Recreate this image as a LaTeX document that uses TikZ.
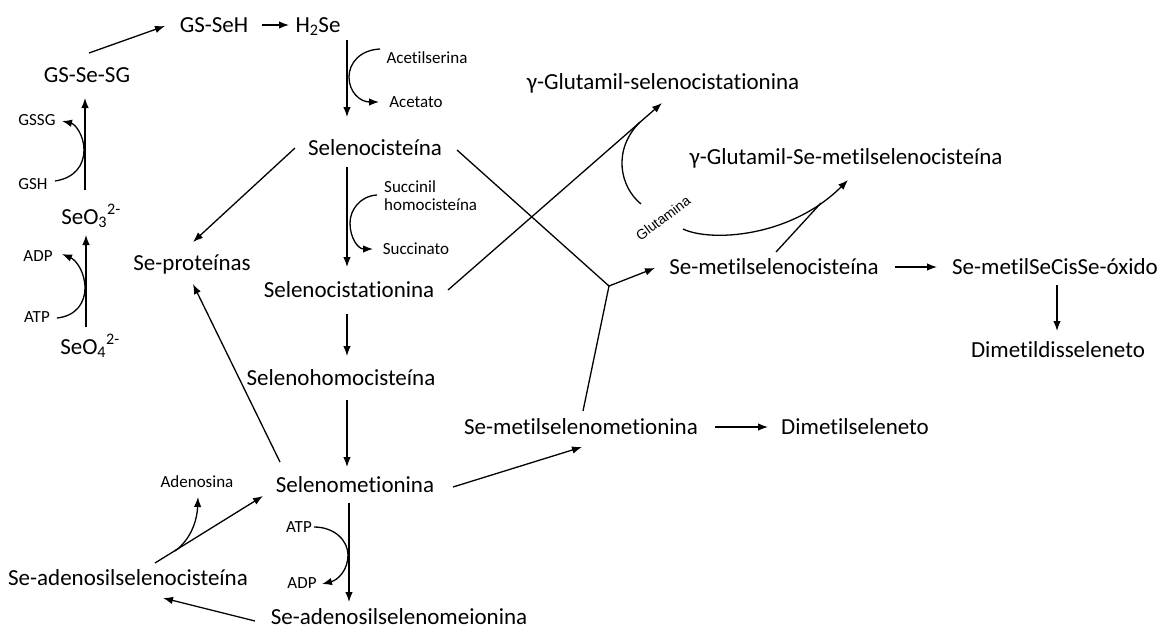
\documentclass[tikz,border=0pt]{standalone}
\usepackage{fontspec}
\setmainfont{Carlito}[RawFeature={-liga;-clig;-dlig}]
\newfontfamily\glufont{Liberation Sans}
\usetikzlibrary{arrows.meta,calc}
\begin{document}
\begin{tikzpicture}[x=1pt,y=-1pt,
  main/.style={inner sep=0pt, font=\fontsize{23}{27}\selectfont, text height=16pt, text depth=2pt},
  small/.style={inner sep=0pt, font=\fontsize{17}{18}\selectfont, text height=12pt, text depth=1.5pt},
  arr/.style={line width=1.3pt, -{Latex[length=10pt,width=7.5pt]}},
  ln/.style={line width=1.3pt}]
\useasboundingbox (0,0) rectangle (1165,630);
% main nodes
\node[main] (gsseh) at (214,25) {GS-SeH};
\node[main] (h2se) at (318,25) {H\textsubscript{2}Se};
\node[main] (gssesg) at (87,75) {GS-Se-SG};
\node[main] (seo3) at (91,217) {SeO\textsubscript{3}\textsuperscript{2-}};
\node[main] (seo4) at (90,347) {SeO\textsubscript{4}\textsuperscript{2-}};
\node[main] (seprot) at (192,263) {Se-proteínas};
\node[main] (selcys) at (375,148) {Selenocisteína};
\node[main] (selcyst) at (349,290) {Selenocistationina};
\node[main] (selhcys) at (341,378) {Selenohomocisteína};
\node[main] (selmet) at (355,485) {Selenometionina};
\node[main] (sadsm) at (399,617) {Se-adenosilselenomeionina};
\node[main] (sadsc) at (128,578) {Se-adenosilselenocisteína};
\node[main] (gglsc) at (663,82) {γ-Glutamil-selenocistationina};
\node[main] (gglsm) at (846,157) {γ-Glutamil-Se-metilselenocisteína};
\node[main] (smsc) at (774,267) {Se-metilselenocisteína};
\node[main] (smscox) at (1055,267) {Se-metilSeCisSe-óxido};
\node[main] (dmds) at (1058,350) {Dimetildisseleneto};
\node[main] (smsm) at (581,427) {Se-metilselenometionina};
\node[main] (dms) at (855,427) {Dimetilseleneto};
% small nodes
\node[small] (gssg) at (37,120) {GSSG};
\node[small] (gsh) at (33,184) {GSH};
\node[small] (adp1) at (38,256) {ADP};
\node[small] (atp1) at (37,317) {ATP};
\node[small] (acetil) at (427,58) {Acetilserina};
\node[small] (acetato) at (416,102) {Acetato};
\node[inner sep=0pt, font=\fontsize{17}{18}\selectfont, align=left, anchor=west] (succ) at (384,196) {Succinil\\homocisteína};
\node[small] (succinato) at (416,249) {Succinato};
\node[small] (adenosina) at (197,482) {Adenosina};
\node[small] (atp2) at (299,527) {ATP};
\node[small] (adp2) at (302,583) {ADP};
\node[inner sep=0pt, font=\glufont\fontsize{14}{15}\selectfont, rotate=37] (glut) at (663,218) {Glutamina};
\coordinate (J) at (609,286);
\coordinate (M) at (821,203);
% connectors
\draw[arr] ($(gssesg)+(2,-22)$) -- ($(gsseh)+(-49,1)$);
\draw[arr] ($(gsseh)+(48,0)$) -- ($(h2se)+(-29,0)$);
\draw[arr] ($(seo3)+(-6,-27)$) -- ($(gssesg)+(-2,23)$);
\draw[arr] ($(gsh)+(22,-3)$) .. controls (75,178) and (84,165) .. (84,150) .. controls (84,135) and (75,124) .. ($(gssg)+(25,1)$);
\draw[arr] ($(seo4)+(-4,-20)$) -- ($(seo3)+(-5,18)$);
\draw[arr] ($(atp1)+(20,1)$) .. controls (76,316) and (85,303) .. (85,288) .. controls (85,272) and (76,260) .. ($(adp1)+(24,-2)$);
\draw[arr] ($(h2se)+(29,15)$) -- ($(selcys)+(-28,-31)$);
\draw[arr] ($(acetil)+(-47,-9)$) .. controls (360,50) and (349,63) .. (349,77) .. controls (349,92) and (360,102) .. ($(acetato)+(-37,0)$);
\draw[arr] ($(selcys)+(-28,19)$) -- ($(selcyst)+(-2,-23)$);
\draw[arr] ($(succ.west)+(-7,-1)$) .. controls (360,196) and (350,210) .. (350,223) .. controls (350,238) and (358,249) .. ($(succinato)+(-43,0)$);
\draw[arr] ($(selcyst)+(-2,24)$) -- ($(selhcys)+(6,-22)$);
\draw[arr] ($(selhcys)+(6,22)$) -- ($(selmet)+(-8,-18)$);
\draw[arr] ($(selmet)+(-6,18)$) -- ($(sadsm)+(-50,-15)$);
\draw[arr] ($(atp2)+(15,0)$) .. controls (335,527) and (348,541) .. (348,555) .. controls (348,570) and (338,580) .. ($(adp2)+(20,1)$);
\draw[arr] ($(sadsm)+(-144,4)$) -- ($(sadsc)+(35,20)$);
\draw[arr] ($(sadsc)+(27,-15)$) -- ($(selmet)+(-92,11)$);
\draw[arr] (175,551) .. controls (190,540) and (197,522) .. ($(adenosina)+(1,15)$);
\draw[arr] ($(selcys)+(-80,0)$) -- ($(seprot)+(1,-21)$);
\draw[arr] ($(selmet)+(-75,-23)$) -- ($(seprot)+(1,21)$);
\draw[ln] ($(selcys)+(82,2)$) -- (J);
\draw[ln] ($(smsm)+(2,-16)$) -- (J);
\draw[arr] (J) -- ($(smsc)+(-119,1)$);
\draw[arr] ($(selcyst)+(99,0)$) -- ($(gglsc)+(-1,21)$);
\draw[ln] ($(glut)+(-22,-14)$) .. controls (620,187) and (612,150) .. (640,122);
\draw[arr] ($(glut)+(20,11)$) .. controls (710,242) and (790,238) .. ($(gglsm)+(2,23)$);
\draw[ln] ($(smsc)+(2,-15)$) -- (M);
\draw[arr] ($(smsc)+(121,0)$) -- ($(smscox)+(-118,0)$);
\draw[arr] ($(smscox)+(2,18)$) -- ($(dmds)+(-1,-19)$);
\draw[arr] ($(smsm)+(134,0)$) -- ($(dms)+(-87,0)$);
\draw[arr] ($(selmet)+(98,2)$) -- ($(smsm)+(1,20)$);
\end{tikzpicture}
\end{document}
